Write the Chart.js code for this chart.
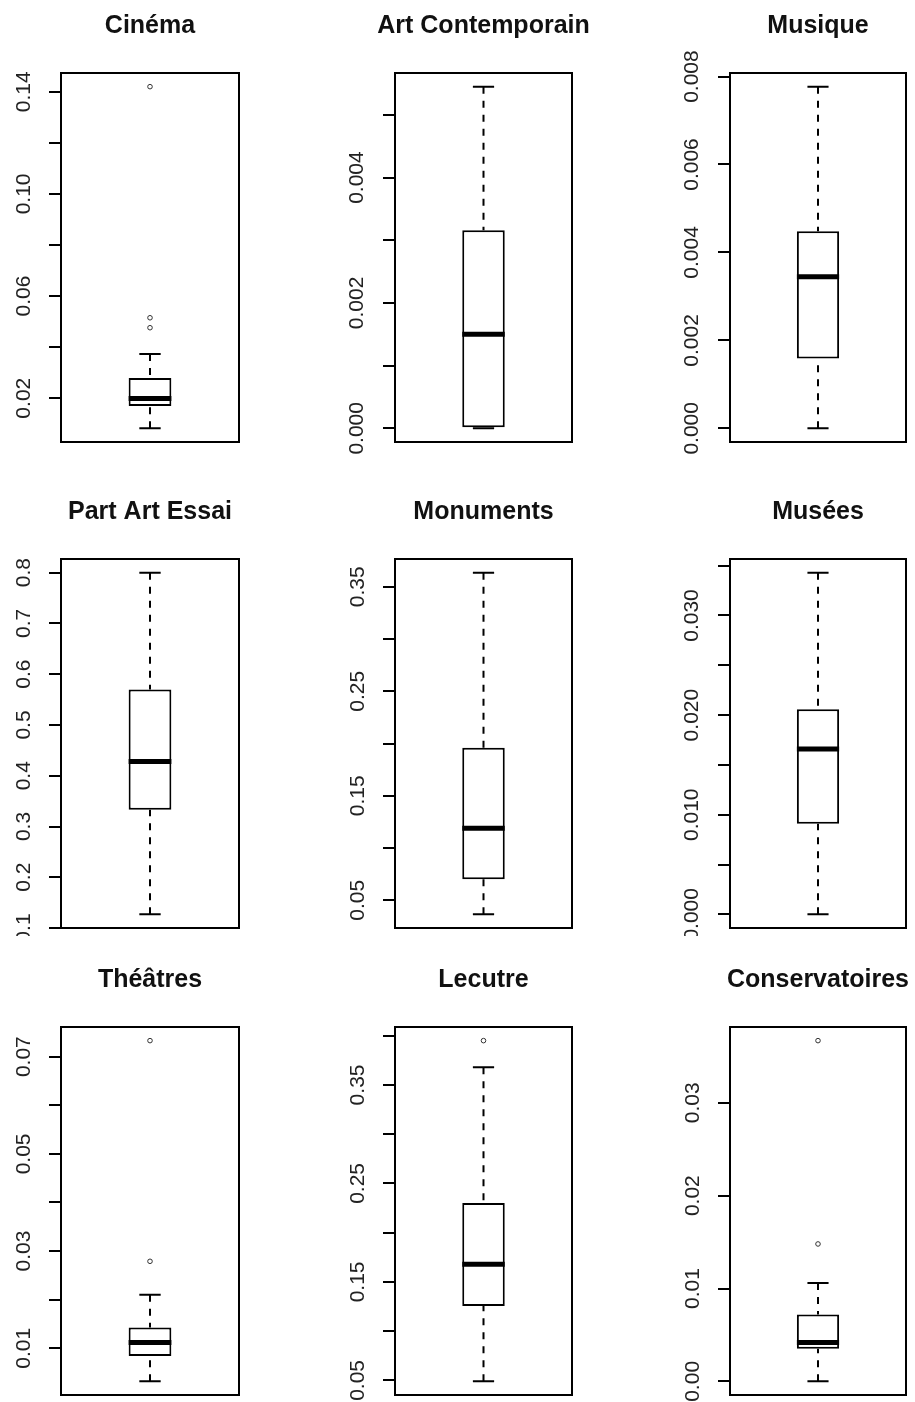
<!DOCTYPE html>
<html lang="fr">
<head>
<meta charset="UTF-8">
<title>Boxplots - indicateurs culturels</title>
<script src="https://cdn.jsdelivr.net/npm/chart.js"></script>
<style>
  html, body { margin: 0; padding: 0; background: #fff; overflow: hidden; }
  #page { position: relative; width: 915px; height: 1402px; }
  .panel { position: absolute; overflow: hidden; }
  .panel canvas { position: absolute; left: 0; top: 0; }
</style>
</head>
<body>
<div id="page"></div>
<script>
const panelNames = ['Cinéma', 'Art Contemporain', 'Musique', 'Part Art Essai', 'Monuments', 'Musées', 'Théâtres', 'Lecutre', 'Conservatoires'];
const lowerWhisker = [0.0082, 0.0, 0.0, 0.127, 0.0365, 0.0, 0.0032, 0.049, 0.0];
const firstQuartile = [0.0169, 0.0, 0.00159, 0.333, 0.070, 0.0091, 0.0084, 0.1256, 0.0035];
const medians = [0.0199, 0.0015, 0.00345, 0.428, 0.119, 0.0166, 0.0112, 0.168, 0.0042];
const thirdQuartile = [0.0279, 0.00316, 0.00448, 0.570, 0.196, 0.0206, 0.0143, 0.230, 0.0072];
const upperWhisker = [0.0373, 0.00545, 0.00777, 0.800, 0.3635, 0.0343, 0.021, 0.368, 0.0106];
const outliers = [
  [0.0476, 0.0515, 0.142], [], [],
  [], [], [],
  [0.0279, 0.0733], [0.395], [0.0148, 0.0367]
];

// graduations et étiquettes de l'axe y ('' = graduation sans étiquette)
const tickValues = [
  [0.02, 0.04, 0.06, 0.08, 0.10, 0.12, 0.14],
  [0, 0.001, 0.002, 0.003, 0.004, 0.005],
  [0, 0.002, 0.004, 0.006, 0.008],
  [0.1, 0.2, 0.3, 0.4, 0.5, 0.6, 0.7, 0.8],
  [0.05, 0.10, 0.15, 0.20, 0.25, 0.30, 0.35],
  [0, 0.005, 0.010, 0.015, 0.020, 0.025, 0.030, 0.035],
  [0.01, 0.02, 0.03, 0.04, 0.05, 0.06, 0.07],
  [0.05, 0.10, 0.15, 0.20, 0.25, 0.30, 0.35, 0.40],
  [0, 0.01, 0.02, 0.03]
];
const tickLabels = [
  ['0.02', '', '0.06', '', '0.10', '', '0.14'],
  ['0.000', '', '0.002', '', '0.004', ''],
  ['0.000', '0.002', '0.004', '0.006', '0.008'],
  ['0.1', '0.2', '0.3', '0.4', '0.5', '0.6', '0.7', '0.8'],
  ['0.05', '', '0.15', '', '0.25', '', '0.35'],
  ['0.000', '', '0.010', '', '0.020', '', '0.030', ''],
  ['0.01', '', '0.03', '', '0.05', '', '0.07'],
  ['0.05', '', '0.15', '', '0.25', '', '0.35', ''],
  ['0.00', '0.01', '0.02', '0.03']
];

// mise en page (pixels)
const plotLeft = [61, 395, 730];
const plotRight = [239, 572, 906];
const plotTop = [73, 559, 1027];
const plotBottom = [442, 928, 1395];
const rowClip = [467, 936, 1402];
const AXIS_W = 61, TITLE_H = 73, PAD_R = 30, PAD_B = 30;
const TITLE_SIZE = 25, TITLE_PAD = 11;
const TICK_SIZE = 21;
const FONT = '"Liberation Sans", Arial, sans-serif';

// moustaches, médiane, cadre façon R + titre centré sur le cadre
const boxExtras = {
  id: 'boxExtras',
  afterLayout(chart) {
    const a = chart.chartArea;
    const t = chart.titleBlock;
    const cx = (a.left + a.right) / 2;
    t.left = cx - 150;
    t.right = cx + 150;
  },
  beforeDatasetsDraw(chart, args, o) {
    const bar = chart.getDatasetMeta(0).data[0];
    const y = chart.scales.y;
    const ctx = chart.ctx;
    const cx = bar.x;
    const cap = bar.width / 4;
    ctx.save();
    ctx.strokeStyle = '#000';
    ctx.lineWidth = 2;
    ctx.setLineDash([7, 7]);
    ctx.beginPath();
    ctx.moveTo(cx, y.getPixelForValue(o.hi));
    ctx.lineTo(cx, y.getPixelForValue(o.q3));
    ctx.moveTo(cx, y.getPixelForValue(o.lo));
    ctx.lineTo(cx, y.getPixelForValue(o.q1));
    ctx.stroke();
    ctx.setLineDash([]);
    ctx.beginPath();
    [o.lo, o.hi].forEach(v => {
      const py = y.getPixelForValue(v);
      ctx.moveTo(cx - cap, py);
      ctx.lineTo(cx + cap, py);
    });
    ctx.stroke();
    ctx.restore();
  },
  afterDatasetsDraw(chart, args, o) {
    const bar = chart.getDatasetMeta(0).data[0];
    const py = chart.scales.y.getPixelForValue(o.med);
    const ctx = chart.ctx;
    ctx.save();
    ctx.strokeStyle = '#000';
    ctx.lineWidth = 5;
    ctx.beginPath();
    ctx.moveTo(bar.x - bar.width / 2, py);
    ctx.lineTo(bar.x + bar.width / 2, py);
    ctx.stroke();
    ctx.restore();
  },
  afterDraw(chart) {
    const a = chart.chartArea;
    const ctx = chart.ctx;
    ctx.save();
    ctx.strokeStyle = '#000';
    ctx.lineWidth = 2;
    ctx.strokeRect(a.left, a.top, a.right - a.left, a.bottom - a.top);
    ctx.restore();
  }
};

const meas = document.createElement('canvas').getContext('2d');
meas.font = TICK_SIZE + 'px ' + FONT;

const page = document.getElementById('page');

panelNames.forEach((name, i) => {
  const r = Math.floor(i / 3), c = i % 3;
  const left = plotLeft[c] - AXIS_W;
  const top = plotTop[r] - TITLE_H;
  const w = AXIS_W + (plotRight[c] - plotLeft[c]) + PAD_R;
  const h = TITLE_H + (plotBottom[r] - plotTop[r]) + PAD_B;

  const wrap = document.createElement('div');
  wrap.className = 'panel';
  wrap.style.left = left + 'px';
  wrap.style.top = top + 'px';
  wrap.style.width = Math.min(w, 915 - left) + 'px';
  wrap.style.height = Math.min(h, rowClip[r] - top) + 'px';
  const canvas = document.createElement('canvas');
  canvas.width = w;
  canvas.height = h;
  canvas.style.width = w + 'px';
  canvas.style.height = h + 'px';
  wrap.appendChild(canvas);
  page.appendChild(wrap);

  // étendue de l'axe : +4 % de chaque côté comme dans R
  const all = [lowerWhisker[i], upperWhisker[i], ...outliers[i]];
  const lo = Math.min(...all), hi = Math.max(...all);
  const ext = (hi - lo) * 0.04;

  const widest = Math.max(...tickLabels[i].map(t => meas.measureText(t).width));
  const pad = Math.max(0, 24.5 - widest / 2);

  new Chart(canvas, {
    type: 'bar',
    data: {
      labels: [name],
      datasets: [
        {
          type: 'bar',
          data: [[firstQuartile[i], thirdQuartile[i]]],
          backgroundColor: '#fff',
          borderColor: '#000',
          borderWidth: 2,
          borderSkipped: false,
          barPercentage: 0.24,
          categoryPercentage: 1
        },
        {
          type: 'line',
          data: outliers[i].map(v => ({ x: name, y: v })),
          showLine: false,
          pointStyle: 'circle',
          pointRadius: 2.3,
          pointBorderWidth: 1,
          pointBorderColor: '#333',
          pointBackgroundColor: '#fff'
        }
      ]
    },
    options: {
      responsive: false,
      animation: false,
      events: [],
      layout: { padding: { left: 0, right: PAD_R, top: 0, bottom: PAD_B } },
      plugins: {
        legend: { display: false },
        tooltip: { enabled: false },
        title: {
          display: true,
          text: name,
          fullSize: false,
          color: '#111',
          font: { family: FONT, size: TITLE_SIZE, weight: 'bold' },
          padding: { top: TITLE_PAD, bottom: TITLE_H - TITLE_PAD - TITLE_SIZE * 1.2 }
        },
        boxExtras: {
          lo: lowerWhisker[i], q1: firstQuartile[i], med: medians[i],
          q3: thirdQuartile[i], hi: upperWhisker[i]
        }
      },
      scales: {
        x: { display: false },
        y: {
          min: lo - ext,
          max: hi + ext,
          afterBuildTicks: s => { s.ticks = tickValues[i].map(v => ({ value: v })); },
          afterFit: s => { s.width = AXIS_W; },
          border: { display: false },
          grid: {
            drawOnChartArea: false,
            drawTicks: true,
            tickLength: 12,
            color: '#000',
            lineWidth: 2,
            tickWidth: 2
          },
          ticks: {
            autoSkip: false,
            minRotation: 90,
            maxRotation: 90,
            crossAlign: 'center',
            padding: pad,
            color: '#222',
            font: { family: FONT, size: TICK_SIZE },
            callback: (v, idx) => tickLabels[i][idx]
          }
        }
      }
    },
    plugins: [boxExtras]
  });
});
</script>
</body>
</html>
